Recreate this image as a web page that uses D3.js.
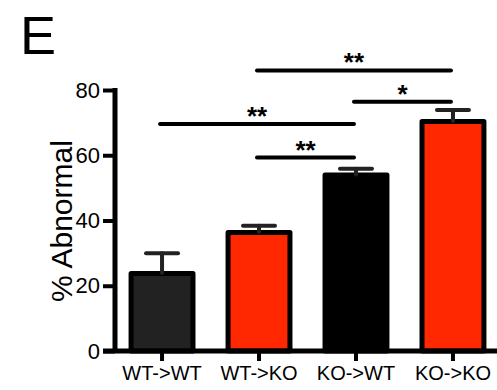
<!DOCTYPE html>
<html>
<head>
<meta charset="utf-8">
<script src="https://d3js.org/d3.v7.min.js"></script>
<style>
  body { margin: 0; background: #fff; }
  text { font-family: "Liberation Sans", Arial, sans-serif; fill: #000; }
</style>
</head>
<body>
<div id="chart"></div>
<script>
// Data
const groups = ["WT->WT", "WT->KO", "KO->WT", "KO->KO"];
const means = [24.5, 37.1, 54.7, 71.1];
const sems = [5.5, 1.3, 1.2, 2.8];
const fills = ["#222222", "#ff2800", "#000000", "#ff2800"];
const yTicks = [0, 20, 40, 60, 80];

// Significance brackets: [from group, to group, y value, label]
const sigFrom = [1, 2, 0, 1];
const sigTo = [3, 3, 2, 2];
const sigLevel = [86, 76.4, 69.6, 59.3];
const sigLabel = ["**", "*", "**", "**"];

const width = 497, height = 390;

const svg = d3.select("#chart")
    .append("svg")
    .attr("width", width)
    .attr("height", height);

// Scales
const x = d3.scaleBand()
    .domain(groups)
    .range([115, 500])
    .paddingInner(0.31)
    .paddingOuter(0.14);

const y = d3.scaleLinear()
    .domain([0, 80])
    .range([351, 90]);

// Panel letter
svg.append("text")
    .attr("x", 20)
    .attr("y", 54)
    .style("font-size", "54px")
    .text("E");

// Bars (outer edge of the border sits on the value)
const bw = 5;
svg.selectAll("rect.bar")
    .data(groups)
    .enter()
    .append("rect")
    .attr("class", "bar")
    .attr("x", d => x(d) + bw / 2)
    .attr("width", x.bandwidth() - bw)
    .attr("y", (d, i) => y(means[i]) + bw / 2)
    .attr("height", (d, i) => y(0) - y(means[i]) - bw / 2)
    .style("fill", (d, i) => fills[i])
    .style("stroke", "#000")
    .style("stroke-width", bw)
    .style("stroke-linejoin", "round");

// Error bars (upper only)
const capW = 32;
const err = svg.append("g")
    .style("stroke", "#222")
    .style("stroke-width", 4)
    .style("stroke-linecap", "round");

groups.forEach((g, i) => {
    const cx = x(g) + x.bandwidth() / 2;
    err.append("line")
        .attr("x1", cx).attr("x2", cx)
        .attr("y1", y(means[i]) + 2)
        .attr("y2", y(means[i] + sems[i]));
    err.append("line")
        .attr("x1", cx - capW / 2).attr("x2", cx + capW / 2)
        .attr("y1", y(means[i] + sems[i]))
        .attr("y2", y(means[i] + sems[i]));
});

// Y axis
const yAxis = d3.axisLeft(y)
    .tickValues(yTicks)
    .tickSize(12)
    .tickPadding(3);

const gy = svg.append("g")
    .attr("transform", "translate(115,0)")
    .call(yAxis);
gy.select(".domain").remove();
gy.selectAll(".tick line").style("stroke", "#000").style("stroke-width", 4);
gy.selectAll(".tick text")
    .style("font-size", "22px")
    .style("font-family", "Liberation Sans, Arial, sans-serif");
gy.append("line")
    .attr("x1", 0).attr("x2", 0)
    .attr("y1", y(80) - 2).attr("y2", y(0))
    .style("stroke", "#000")
    .style("stroke-width", 5);

// X axis
const xAxis = d3.axisBottom(x)
    .tickSize(10)
    .tickPadding(5);

const gx = svg.append("g")
    .attr("transform", `translate(0,${y(0)})`)
    .call(xAxis);
gx.select(".domain").remove();
gx.selectAll(".tick line").style("stroke", "#000").style("stroke-width", 4);
gx.selectAll(".tick text")
    .style("font-size", "20px")
    .style("font-family", "Liberation Sans, Arial, sans-serif");
gx.append("line")
    .attr("x1", 103).attr("x2", width)
    .attr("y1", 0).attr("y2", 0)
    .style("stroke", "#000")
    .style("stroke-width", 5);

// Y label
svg.append("text")
    .attr("transform", "translate(72,221) rotate(-90)")
    .attr("text-anchor", "middle")
    .style("font-size", "30px")
    .text("% Abnormal");

// Significance brackets
const sig = svg.append("g");
sigLabel.forEach((lab, i) => {
    const x1 = x(groups[sigFrom[i]]) + x.bandwidth() / 2 - 2;
    const x2 = x(groups[sigTo[i]]) + x.bandwidth() / 2 - 2;
    const ly = y(sigLevel[i]);
    sig.append("line")
        .attr("x1", x1).attr("x2", x2)
        .attr("y1", ly).attr("y2", ly)
        .style("stroke", "#000")
        .style("stroke-width", 4)
        .style("stroke-linecap", "round");
    sig.append("text")
        .attr("x", (x1 + x2) / 2)
        .attr("y", ly + 1)
        .attr("text-anchor", "middle")
        .style("font-size", "26px")
        .style("font-weight", "bold")
        .text(lab);
});
</script>
</body>
</html>
